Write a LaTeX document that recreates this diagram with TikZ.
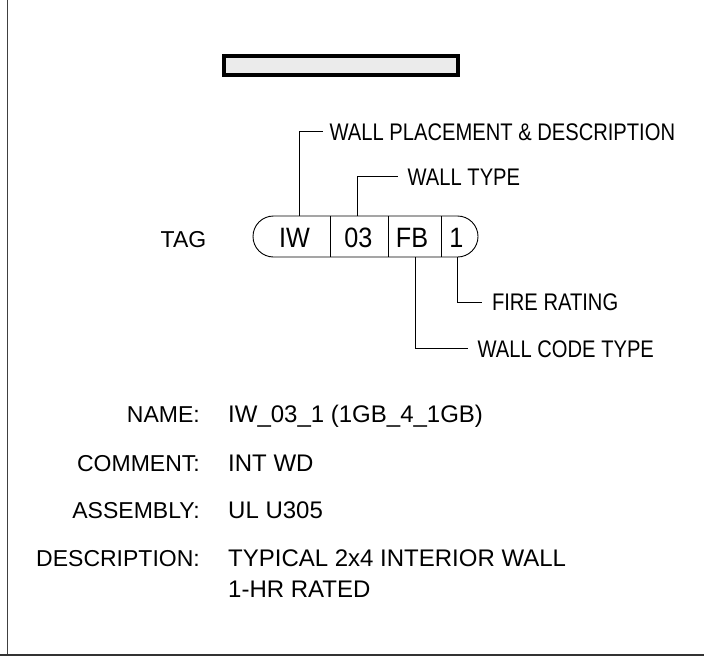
\documentclass[tikz,border=0pt]{standalone}
\usepackage{fontspec}
\setmainfont{Liberation Sans}
\newfontfamily\condfont{Liberation Sans}[FakeStretch=0.84]
\newfontfamily\tagfont{Liberation Sans}[FakeStretch=0.9]
\definecolor{barfill}{RGB}{235,235,235}
\begin{document}
\begin{tikzpicture}[x=1pt,y=-1pt,
  maintext/.style={font=\fontsize{23}{23}\selectfont, inner sep=0pt},
  keytext/.style={maintext, anchor=base east},
  valtext/.style={font=\fontsize{24}{24}\selectfont, inner sep=0pt, anchor=base west},
  lbl/.style={font=\condfont\fontsize{24}{24}\selectfont, inner sep=0pt, anchor=base west},
  cell/.style={font=\tagfont\fontsize{28}{28}\selectfont, inner sep=0pt, anchor=base},
  leader/.style={line width=0.9pt, black},
  thin/.style={line width=0.9pt, black}]
\useasboundingbox (0,0) rectangle (704,656);
% frame
\draw[line width=1.5pt, black!75] (7.3,0) -- (7.3,654.3);
\draw[line width=2pt, black!80] (0,654.5) -- (704,654.5);
% wall bar
\draw[line width=4pt, fill=barfill] (224.3,56.3) rectangle (458,74.7);
% tag
\node[maintext, anchor=base] (tag) at (183.5,247) {TAG};
\draw[thin, rounded corners=20.5pt] (253,216) rectangle (478,257);
\draw[thin] (330,216) -- (330,257);
\draw[thin] (388,216) -- (388,257);
\draw[thin] (441,216) -- (441,257);
\node[cell] (iw) at (294.5,247.5) {IW};
\node[cell] (c03) at (358.5,247.5) {03};
\node[cell] (fb) at (412,247.5) {FB};
\node[cell] (c1) at (456.5,247.5) {1};
% leader start points on the tag
\coordinate (p1) at (299,216);
\coordinate (p2) at (357.3,216);
\coordinate (p3) at (457.7,257);
\coordinate (p4) at (415.7,257);
% labels
\node[lbl] (l1) at (329.5,140) {WALL PLACEMENT \& DESCRIPTION};
\node[lbl] (l2) at (407.5,185) {WALL TYPE};
\node[lbl] (l3) at (491.8,310.7) {FIRE RATING};
\node[lbl] (l4) at (477.5,357) {WALL CODE TYPE};
\draw[leader] (p1) |- ([xshift=-6.5pt]l1.west);
\draw[leader] (p2) |- ([xshift=-9.5pt]l2.west);
\draw[leader] (p3) |- ([xshift=-10pt]l3.west);
\draw[leader] (p4) |- ([xshift=-9.5pt]l4.west);
% properties
\node[keytext] (k1) at (200,422) {NAME:};
\node[keytext] (k2) at (200,471.5) {COMMENT:};
\node[keytext] (k3) at (200,518.5) {ASSEMBLY:};
\node[keytext] (k4) at (200,566) {DESCRIPTION:};
\node[valtext] (v1) at (228,422) {IW\_03\_1 (1GB\_4\_1GB)};
\node[valtext] (v2) at (228,471.5) {INT WD};
\node[valtext] (v3) at (228,518.5) {UL U305};
\node[valtext] (v4) at (228,566) {TYPICAL 2x4 INTERIOR WALL};
\node[valtext] (v5) at (228,597) {1-HR RATED};
\end{tikzpicture}
\end{document}
